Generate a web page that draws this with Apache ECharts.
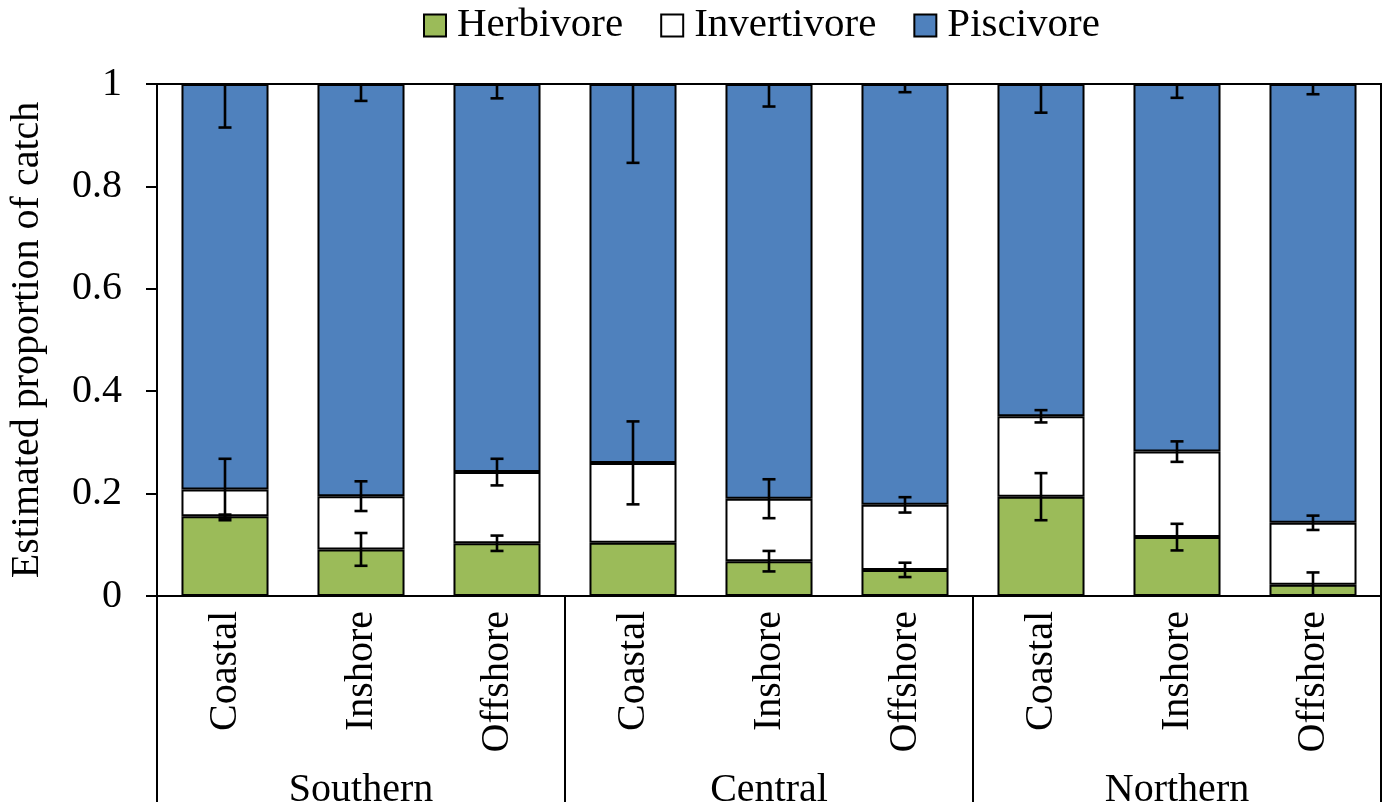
<!DOCTYPE html>
<html>
<head>
<meta charset="utf-8">
<title>Estimated proportion of catch by trophic group</title>
<script src="https://cdn.jsdelivr.net/npm/echarts@6/dist/echarts.min.js"></script>
<style>
  html, body { margin: 0; padding: 0; background: #fff; }
  #chart { width: 1388px; height: 809px; }
</style>
</head>
<body>
<div id="chart"></div>
<script>
// Habitat zones within each region
const habitats = ['Coastal', 'Inshore', 'Offshore', 'Coastal', 'Inshore', 'Offshore', 'Coastal', 'Inshore', 'Offshore'];
const regions = ['Southern', 'Central', 'Northern'];

// Stacked proportions per bar (sum to 1)
const herbivore   = [0.156, 0.091, 0.103, 0.104, 0.068, 0.051, 0.194, 0.115, 0.022];
const invertivore = [0.052, 0.104, 0.139, 0.156, 0.122, 0.127, 0.157, 0.167, 0.121];
const piscivore   = [0.792, 0.805, 0.758, 0.740, 0.810, 0.822, 0.649, 0.718, 0.857];

// Error half-widths, drawn at the top of each stacked segment
const herbivoreErr   = [0.003, 0.032, 0.015, 0, 0.020, 0.014, 0.046, 0.026, 0.024];
const invertivoreErr = [0.060, 0.029, 0.026, 0.081, 0.038, 0.015, 0.012, 0.020, 0.014];
const piscivoreErr   = [0.085, 0.033, 0.028, 0.154, 0.044, 0.016, 0.056, 0.027, 0.020];

const yTicks = [0, 0.2, 0.4, 0.6, 0.8, 1];

const FONT = "'Liberation Serif', 'Times New Roman', 'DejaVu Serif', serif";
const FONT_SIZE = 40;
const COLORS = { herb: '#9BBB59', invert: '#FFFFFF', pisc: '#4F81BD' };

const chart = echarts.init(document.getElementById('chart'), null, { renderer: 'canvas' });

function barSeries(name, data, color) {
  return {
    name: name,
    type: 'bar',
    stack: 'catch',
    data: data,
    barCategoryGap: '36%',
    itemStyle: { color: color, borderColor: '#000', borderWidth: 2 },
    emphasis: { disabled: true },
    z: 2
  };
}

// Error bars: vertical whisker with caps, clipped to the 0..1 axis range
function renderErrors(params, api) {
  const i = api.value(0);
  const h = herbivore[i];
  const t = h + invertivore[i];
  const top = t + piscivore[i];
  const sets = [[h, herbivoreErr[i]], [t, invertivoreErr[i]], [top, piscivoreErr[i]]];
  const capHalf = 6.5;
  const style = { stroke: '#000', lineWidth: 2.6 };
  const children = [];
  sets.forEach(function (s) {
    const v = s[0], e = s[1];
    if (!e) return;
    const lo = Math.max(0, v - e);
    const hi = Math.min(1, v + e);
    const pLo = api.coord([i, lo]);
    const pHi = api.coord([i, hi]);
    const x = pLo[0];
    children.push({ type: 'line', shape: { x1: x, y1: pLo[1], x2: x, y2: pHi[1] }, style: style });
    if (v - e >= 0) {
      children.push({ type: 'line', shape: { x1: x - capHalf, y1: pLo[1], x2: x + capHalf, y2: pLo[1] }, style: style });
    }
    if (v + e <= 1.0001) {
      children.push({ type: 'line', shape: { x1: x - capHalf, y1: pHi[1], x2: x + capHalf, y2: pHi[1] }, style: style });
    }
  });
  return { type: 'group', children: children };
}

const option = {
  backgroundColor: '#fff',
  animation: false,
  textStyle: { fontFamily: FONT, color: '#000' },
  legend: {
    data: ['Herbivore', 'Invertivore', 'Piscivore'],
    left: 418,
    top: 0,
    itemWidth: 22,
    itemHeight: 22,
    itemGap: 37,
    icon: 'rect',
    itemStyle: { borderColor: '#000', borderWidth: 2 },
    textStyle: { fontFamily: FONT, fontSize: 41, color: '#000', padding: [0, 0, 0, 6] }
  },
  grid: {
    left: 157,
    right: 7,
    top: 84,
    bottom: 213,
    outerBoundsMode: 'none',
    show: true,
    borderColor: '#000',
    borderWidth: 2,
    backgroundColor: 'transparent',
    containLabel: false
  },
  xAxis: [
    {
      type: 'category',
      data: habitats,
      position: 'bottom',
      axisLine: { show: true, lineStyle: { color: '#000', width: 2 } },
      axisTick: { show: false },
      axisLabel: {
        rotate: 90,
        margin: 15,
        interval: 0,
        fontFamily: FONT,
        fontSize: FONT_SIZE,
        color: '#000'
      },
      splitLine: { show: false }
    },
    {
      type: 'category',
      data: regions,
      position: 'bottom',
      gridIndex: 0,
      axisLine: { show: false },
      axisTick: {
        show: true,
        interval: 0,
        length: 206,
        lineStyle: { color: '#000', width: 2 }
      },
      axisLabel: {
        margin: 174,
        interval: 0,
        fontFamily: FONT,
        fontSize: FONT_SIZE,
        color: '#000'
      },
      splitLine: { show: false }
    }
  ],
  yAxis: {
    type: 'value',
    min: yTicks[0],
    max: yTicks[yTicks.length - 1],
    interval: 0.2,
    name: 'Estimated proportion of catch',
    nameLocation: 'middle',
    nameGap: 110,
    nameTextStyle: { fontFamily: FONT, fontSize: FONT_SIZE, color: '#000' },
    axisLine: { show: true, lineStyle: { color: '#000', width: 2 } },
    axisTick: { show: true, length: 11, lineStyle: { color: '#000', width: 2 } },
    axisLabel: {
      margin: 35,
      fontFamily: FONT,
      fontSize: FONT_SIZE,
      color: '#000',
      formatter: function (v) { return String(Math.round(v * 10) / 10); }
    },
    splitLine: { show: false }
  },
  series: [
    barSeries('Herbivore', herbivore, COLORS.herb),
    barSeries('Invertivore', invertivore, COLORS.invert),
    barSeries('Piscivore', piscivore, COLORS.pisc),
    {
      name: 'errors',
      type: 'custom',
      xAxisIndex: 0,
      data: habitats.map(function (_, i) { return [i, 0]; }),
      encode: { x: 0, y: 1 },
      renderItem: renderErrors,
      clip: false,
      silent: true,
      z: 10
    }
  ]
};

chart.setOption(option);
</script>
</body>
</html>
